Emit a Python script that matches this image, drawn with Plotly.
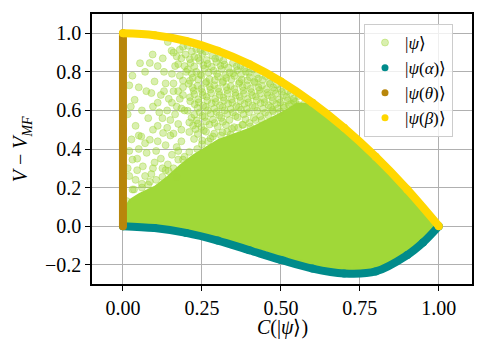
import plotly.graph_objects as go

# curves
alpha_c = [0.0, 0.1, 0.2, 0.3, 0.4, 0.5, 0.6, 0.7, 0.8, 0.9, 0.95, 1.0]
alpha_v = [0.0, -0.01, -0.035, -0.075, -0.125, -0.175, -0.22, -0.245, -0.235, -0.15, -0.085, 0.0]

theta_c = [0.0, 0.0, 0.0]
theta_v = [0.0, 0.5, 1.0]

beta_c = [0.0, 0.1, 0.2, 0.3, 0.4, 0.5, 0.6, 0.7, 0.8, 0.9, 1.0]
beta_v = [1.0, 0.99, 0.96, 0.91, 0.84, 0.75, 0.64, 0.51, 0.36, 0.19, 0.0]

# outline of the saturated part of the |psi> cloud
core_c = [0.0, 0.005, 0.02, 0.05, 0.10, 0.14, 0.18, 0.22, 0.26, 0.30, 0.35, 0.40, 0.45, 0.50, 0.55,
          0.58, 0.60, 0.65, 0.70, 0.75, 0.80, 0.85, 0.90, 0.95, 1.00,
          0.95, 0.90, 0.85, 0.80, 0.75, 0.70, 0.65, 0.60, 0.55, 0.50, 0.45, 0.40, 0.35, 0.30,
          0.25, 0.20, 0.15, 0.10, 0.05, 0.0]
core_v = [0.0, 0.10, 0.14, 0.17, 0.21, 0.26, 0.32, 0.37, 0.41, 0.45, 0.48, 0.51, 0.55, 0.59, 0.64,
          0.64, 0.625, 0.565, 0.495, 0.42, 0.345, 0.265, 0.175, 0.085, 0.0,
          -0.08, -0.145, -0.195, -0.225, -0.235, -0.235, -0.22, -0.205, -0.185, -0.16, -0.13, -0.11, -0.085, -0.06,
          -0.04, -0.025, -0.012, -0.005, 0.005, 0.005]

# individual |psi> samples outside the saturated part
psi_c = [0.054, 0.085, 0.030, 0.074, 0.037, 0.020, 0.040, 0.027, 0.094, 0.126, 0.154, 0.142,
         0.058, 0.085, 0.127, 0.030, 0.063, 0.095, 0.142, 0.040, 0.085,
         0.170, 0.190, 0.170, 0.140, 0.095, 0.170, 0.100, 0.130, 0.160, 0.180, 0.120, 0.060,
         0.150, 0.080, 0.180, 0.170, 0.190, 0.110, 0.015, 0.015, 0.050, 0.105, 0.135, 0.160,
         0.025, 0.050, 0.070, 0.110, 0.135, 0.155, 0.090, 0.115, 0.050, 0.075, 0.120, 0.155,
         0.020, 0.045, 0.090, 0.135, 0.185, 0.195, 0.175, 0.190, 0.200, 0.175, 0.030, 0.060,
         # along the edge of the saturated part
         0.012, 0.035, 0.060, 0.080, 0.105, 0.125, 0.145, 0.160, 0.175, 0.195, 0.210, 0.235, 0.250,
         0.270, 0.285, 0.310, 0.330, 0.345, 0.365, 0.380, 0.400, 0.420, 0.435, 0.460, 0.475, 0.490,
         0.510, 0.525, 0.540,
         # between the left column and the upper block
         0.145, 0.160, 0.165, 0.185, 0.150, 0.165, 0.185, 0.155, 0.175, 0.190, 0.160, 0.180,
         0.195, 0.140, 0.185, 0.175, 0.190, 0.130, 0.110, 0.125, 0.095, 0.070, 0.110, 0.045,
         0.020, 0.100, 0.125, 0.070,
         0.205, 0.232, 0.262,
         0.198, 0.226, 0.251, 0.283, 0.305,
         0.214, 0.243, 0.268, 0.296, 0.321, 0.348, 0.372,
         0.205, 0.232, 0.259, 0.287, 0.312, 0.338, 0.362, 0.389, 0.412,
         0.221, 0.249, 0.274, 0.301, 0.327, 0.353, 0.376, 0.402, 0.428, 0.451,
         0.208, 0.236, 0.262, 0.289, 0.315, 0.341, 0.367, 0.393, 0.418, 0.440, 0.466, 0.487,
         0.224, 0.251, 0.277, 0.304, 0.330, 0.356, 0.381, 0.407, 0.432, 0.457, 0.479, 0.503, 0.522,
         0.212, 0.238, 0.265, 0.292, 0.318, 0.344, 0.370, 0.395, 0.421, 0.446, 0.472, 0.495, 0.518, 0.541, 0.556,
         0.227, 0.254, 0.281, 0.307, 0.333, 0.359, 0.385, 0.410, 0.436, 0.461, 0.485, 0.509, 0.532, 0.556, 0.576,
         0.205, 0.243, 0.269, 0.296, 0.322, 0.348, 0.374, 0.399, 0.425, 0.450, 0.474, 0.498,
         0.217, 0.233, 0.259, 0.285, 0.311, 0.337, 0.363, 0.388, 0.414, 0.439,
         0.222, 0.248, 0.274, 0.300, 0.326, 0.352, 0.378, 0.403,
         0.210, 0.237, 0.263, 0.289, 0.315, 0.341,
         0.225, 0.251, 0.277,
         0.218, 0.245,
         0.212, 0.238, 0.265, 0.292, 0.318,
         0.226, 0.255, 0.281, 0.309, 0.334, 0.360, 0.385,
         0.218, 0.245, 0.271, 0.298, 0.324, 0.349, 0.374, 0.399, 0.424,
         0.212, 0.238, 0.264, 0.291, 0.317, 0.343, 0.369, 0.394, 0.416, 0.441, 0.463,
         0.221, 0.248, 0.275, 0.301, 0.327, 0.353, 0.379, 0.404, 0.429, 0.454, 0.476, 0.499,
         0.226, 0.253, 0.279, 0.306, 0.331, 0.357, 0.383, 0.409, 0.434, 0.459, 0.483, 0.507, 0.530,
         0.213, 0.240, 0.267, 0.294, 0.320, 0.346, 0.372, 0.397, 0.423, 0.448, 0.474, 0.498, 0.522, 0.545,
         0.236, 0.262, 0.289, 0.315, 0.341, 0.367, 0.392, 0.418, 0.443, 0.468,
         0.226, 0.252, 0.278, 0.305, 0.330, 0.356, 0.382,
         0.210, 0.237, 0.263, 0.290, 0.316,
         0.230, 0.256,
         0.40, 0.44, 0.47, 0.50, 0.53, 0.56, 0.59, 0.62, 0.65, 0.68, 0.71, 0.74, 0.77, 0.80, 0.83, 0.86]
psi_v = [0.845, 0.846, 0.780, 0.700, 0.655, 0.730, 0.520, 0.450, 0.890, 0.870, 0.910, 0.955,
         0.465, 0.448, 0.483, 0.345, 0.310, 0.300, 0.320, 0.240, 0.230,
         0.255, 0.345, 0.410, 0.600, 0.620, 0.620, 0.750, 0.800, 0.700, 0.780, 0.680, 0.600,
         0.550, 0.560, 0.660, 0.880, 0.930, 0.520, 0.300, 0.580, 0.400, 0.390, 0.420, 0.480,
         0.620, 0.720, 0.800, 0.830, 0.740, 0.790, 0.690, 0.590, 0.470, 0.380, 0.350, 0.370,
         0.390, 0.290, 0.270, 0.290, 0.500, 0.600, 0.530, 0.720, 0.800, 0.840, 0.190, 0.220,
         0.130, 0.190, 0.200, 0.215, 0.240, 0.255, 0.285, 0.300, 0.345, 0.360, 0.385, 0.400, 0.425,
         0.440, 0.465, 0.470, 0.490, 0.505, 0.510, 0.525, 0.535, 0.550, 0.570, 0.575, 0.595, 0.610,
         0.615, 0.630, 0.650,
         0.660, 0.740, 0.830, 0.870, 0.470, 0.580, 0.610, 0.640, 0.700, 0.755, 0.900, 0.915,
         0.830, 0.510, 0.440, 0.390, 0.680, 0.700, 0.640, 0.560, 0.500, 0.430, 0.440, 0.350,
         0.260, 0.330, 0.300, 0.260,
         0.935, 0.918, 0.905,
         0.890, 0.878, 0.893, 0.884, 0.872,
         0.846, 0.858, 0.842, 0.851, 0.838, 0.846, 0.830,
         0.812, 0.800, 0.818, 0.806, 0.815, 0.797, 0.809, 0.801, 0.812,
         0.770, 0.781, 0.762, 0.775, 0.768, 0.779, 0.760, 0.772, 0.765, 0.778,
         0.738, 0.728, 0.742, 0.731, 0.745, 0.726, 0.739, 0.730, 0.744, 0.728, 0.738, 0.733,
         0.702, 0.695, 0.708, 0.697, 0.705, 0.692, 0.703, 0.695, 0.706, 0.692, 0.704, 0.697, 0.701,
         0.668, 0.658, 0.671, 0.661, 0.667, 0.657, 0.670, 0.660, 0.672, 0.659, 0.668, 0.657, 0.669, 0.662, 0.675,
         0.632, 0.624, 0.637, 0.626, 0.635, 0.622, 0.634, 0.625, 0.638, 0.627, 0.633, 0.624, 0.636, 0.628, 0.640,
         0.598, 0.590, 0.601, 0.592, 0.600, 0.589, 0.603, 0.591, 0.598, 0.588, 0.602, 0.593,
         0.562, 0.548, 0.566, 0.553, 0.561, 0.550, 0.565, 0.554, 0.562, 0.551,
         0.522, 0.514, 0.527, 0.516, 0.524, 0.513, 0.526, 0.517,
         0.488, 0.478, 0.490, 0.480, 0.487, 0.476,
         0.452, 0.444, 0.455,
         0.905, 0.912,
         0.866, 0.872, 0.861, 0.869, 0.858,
         0.828, 0.834, 0.826, 0.832, 0.822, 0.829, 0.818,
         0.792, 0.786, 0.797, 0.790, 0.784, 0.793, 0.787, 0.795, 0.788,
         0.754, 0.760, 0.749, 0.757, 0.751, 0.761, 0.748, 0.756, 0.750, 0.758, 0.748,
         0.718, 0.712, 0.723, 0.714, 0.721, 0.711, 0.722, 0.713, 0.720, 0.711, 0.719, 0.713,
         0.684, 0.679, 0.689, 0.680, 0.687, 0.677, 0.686, 0.678, 0.688, 0.679, 0.686, 0.678, 0.686,
         0.648, 0.642, 0.652, 0.644, 0.651, 0.641, 0.650, 0.642, 0.653, 0.643, 0.650, 0.641, 0.651, 0.644,
         0.612, 0.618, 0.609, 0.617, 0.607, 0.616, 0.608, 0.618, 0.609, 0.616,
         0.578, 0.572, 0.583, 0.575, 0.582, 0.571, 0.580,
         0.538, 0.532, 0.543, 0.535, 0.541,
         0.503, 0.497,
         -0.115, -0.135, -0.15, -0.165, -0.178, -0.19, -0.2, -0.207, -0.213, -0.218, -0.22, -0.22, -0.218, -0.21, -0.198, -0.178]

x_ticks = [0.0, 0.25, 0.5, 0.75, 1.0]
y_ticks = [-0.2, 0.0, 0.2, 0.4, 0.6, 0.8, 1.0]

GREEN = "#a0d838"
GREEN_A = "rgba(160,216,56,0.4)"
TEAL = "#008b8b"
GOLDENROD = "#b8860b"
GOLD = "#ffd700"
FONT = "Liberation Serif"

fig = go.Figure()

fig.add_trace(go.Scatter(x=core_c, y=core_v, mode="lines", fill="toself", fillcolor=GREEN,
                         line=dict(width=0), showlegend=False, hoverinfo="skip"))
fig.add_trace(go.Scatter(x=psi_c, y=psi_v, mode="markers", name="|<i>ψ</i>⟩",
                         marker=dict(color=GREEN_A, size=7, line=dict(width=1, color=GREEN_A))))

# thick curves, markers at the sample points give round ends
for cx, cy, col in [(alpha_c, alpha_v, TEAL), (theta_c, theta_v, GOLDENROD), (beta_c, beta_v, GOLD)]:
    fig.add_trace(go.Scatter(x=cx, y=cy, mode="lines+markers", line=dict(color=col, width=8, shape="spline"),
                             marker=dict(color=col, size=8), showlegend=False))

for name, col in [("|<i>ψ</i>(<i>α</i>)⟩", TEAL), ("|<i>ψ</i>(<i>θ</i>)⟩", GOLDENROD), ("|<i>ψ</i>(<i>β</i>)⟩", GOLD)]:
    fig.add_trace(go.Scatter(x=[None], y=[None], mode="markers", name=name,
                             marker=dict(color=col, size=7)))

axis_style = dict(showgrid=True, gridcolor="#b0b0b0", gridwidth=1, zeroline=False,
                  showline=True, linecolor="black", linewidth=1.5, mirror=True,
                  ticks="outside", ticklen=5, tickwidth=1.2, tickcolor="black", automargin=False,
                  tickfont=dict(family=FONT, size=20, color="black"))

fig.update_xaxes(range=[-0.098, 1.105], tickvals=x_ticks, tickformat=".2f", **axis_style)
fig.update_yaxes(range=[-0.30, 1.10], tickvals=y_ticks, tickformat=".1f", **axis_style)

# axis titles as annotations so they sit where the reference has them
fig.add_annotation(text="<i>C</i>(|<i>ψ</i>⟩)", xref="paper", yref="paper", x=0.5, y=-0.162,
                   xanchor="center", yanchor="middle", showarrow=False,
                   font=dict(family=FONT, size=20, color="black"))
fig.add_annotation(text="<i>V</i> − <i>V</i><sub><i>MF</i></sub>", xref="paper", yref="paper", x=-0.186, y=0.5,
                   xanchor="center", yanchor="middle", textangle=-90, showarrow=False,
                   font=dict(family=FONT, size=20, color="black"))

# page body adds an 8px offset, so margins are shifted by 8
fig.update_layout(
    width=485, height=356,
    margin=dict(l=84, r=21, t=6, b=80),
    plot_bgcolor="white", paper_bgcolor="white",
    font=dict(family=FONT, size=17, color="black"),
    legend=dict(x=0.95, y=0.963, xanchor="right", yanchor="top",
                bgcolor="rgba(255,255,255,0.8)", bordercolor="#cccccc", borderwidth=1,
                font=dict(family=FONT, size=17, color="black"), itemwidth=30),
    showlegend=True,
)

fig.write_html("out.html")
